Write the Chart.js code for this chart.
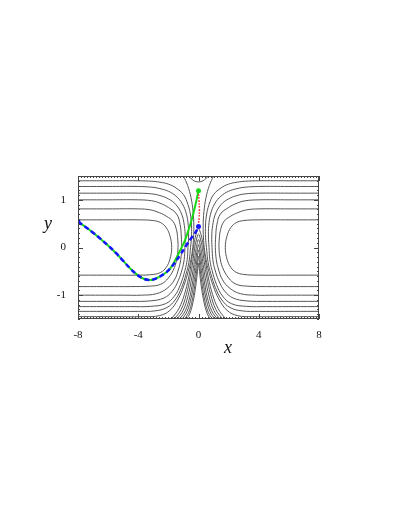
<!DOCTYPE html>
<html>
<head>
<meta charset="utf-8">
<script src="https://cdn.jsdelivr.net/npm/chart.js@4/dist/chart.umd.min.js"></script>
<style>
  html, body { margin: 0; padding: 0; background: #fff; }
</style>
</head>
<body>
<canvas id="chart" width="409" height="529"></canvas>
<script>
// Tick labels
const xTicks = [-8, -4, 0, 4, 8]
const yTicks = [-1, 0, 1]

// Contour lines, [x, y] pairs
const loopLeft = [[-8,0.58],[-6,0.58],[-4,0.58],[-3,0.565],[-2.5,0.52],[-2.15,0.42],[-1.9,0.25],[-1.78,0],[-1.9,-0.25],[-2.15,-0.42],[-2.5,-0.52],[-3,-0.565],[-4,-0.58],[-6,-0.58],[-8,-0.58]]
const loopRight = [[8,0.58],[6,0.58],[4,0.58],[3,0.565],[2.5,0.52],[2.15,0.42],[1.9,0.25],[1.78,0],[1.9,-0.25],[2.15,-0.42],[2.5,-0.52],[3,-0.565],[4,-0.58],[6,-0.58],[8,-0.58]]

const c1Left = [[-8,0.81],[-6,0.81],[-4,0.81],[-3.2,0.79],[-2.6,0.73],[-2.1,0.65],[-1.7,0.55],[-1.47,0.38],[-1.38,0.18],[-1.36,0],[-1.42,-0.2],[-1.6,-0.42],[-2,-0.64],[-2.5,-0.77],[-3.2,-0.81],[-4.5,-0.82],[-6,-0.82],[-8,-0.82]]
const c1Right = [[8,0.81],[6,0.81],[4,0.81],[3.2,0.79],[2.6,0.73],[2.1,0.65],[1.7,0.55],[1.47,0.38],[1.38,0.18],[1.36,0],[1.42,-0.2],[1.6,-0.42],[2,-0.64],[2.5,-0.77],[3.2,-0.81],[4.5,-0.82],[6,-0.82],[8,-0.82]]

const c2Left = [[-8,1.0],[-6,1.0],[-4,1.0],[-3.1,0.98],[-2.56,0.93],[-2.0,0.84],[-1.45,0.7],[-1.22,0.48],[-1.14,0.22],[-1.12,0],[-1.18,-0.25],[-1.32,-0.45],[-1.6,-0.68],[-2.1,-0.86],[-2.8,-0.97],[-3.8,-1.0],[-5,-1.0],[-8,-1.0]]
const c2Right = [[8,1.0],[6,1.0],[4,1.0],[3.1,0.98],[2.56,0.93],[2.0,0.84],[1.45,0.7],[1.22,0.48],[1.14,0.22],[1.12,0],[1.18,-0.25],[1.32,-0.45],[1.6,-0.68],[2.1,-0.86],[2.8,-0.97],[3.8,-1.0],[5,-1.0],[8,-1.0]]

const c3Left = [[-8,1.14],[-6,1.14],[-4,1.14],[-3.1,1.125],[-2.56,1.09],[-2.0,1.02],[-1.5,0.9],[-1.12,0.7],[-0.94,0.46],[-0.88,0.22],[-0.9,0],[-0.95,-0.25],[-1.08,-0.45],[-1.35,-0.7],[-1.75,-0.92],[-2.3,-1.06],[-3.2,-1.12],[-4.5,-1.13],[-6,-1.13],[-8,-1.13]]
const c3Right = [[8,1.14],[6,1.14],[4,1.14],[3.1,1.125],[2.56,1.09],[2.0,1.02],[1.5,0.9],[1.12,0.7],[0.94,0.46],[0.88,0.22],[0.9,0],[0.95,-0.25],[1.08,-0.45],[1.35,-0.7],[1.75,-0.92],[2.3,-1.06],[3.2,-1.12],[4.5,-1.13],[6,-1.13],[8,-1.13]]

const c4Left = [[-8,1.28],[-6,1.28],[-4,1.28],[-3.1,1.265],[-2.56,1.235],[-2.0,1.18],[-1.5,1.08],[-1.08,0.92],[-0.8,0.7],[-0.68,0.46],[-0.66,0.22],[-0.7,0],[-0.75,-0.25],[-0.9,-0.48],[-1.2,-0.78],[-1.6,-1.02],[-2.2,-1.18],[-3.2,-1.235],[-4.5,-1.24],[-6,-1.24],[-8,-1.24]]
const c4Right = [[8,1.28],[6,1.28],[4,1.28],[3.1,1.265],[2.56,1.235],[2.0,1.18],[1.5,1.08],[1.08,0.92],[0.8,0.7],[0.68,0.46],[0.66,0.22],[0.7,0],[0.75,-0.25],[0.9,-0.48],[1.2,-0.78],[1.6,-1.02],[2.2,-1.18],[3.2,-1.235],[4.5,-1.24],[6,-1.24],[8,-1.24]]

const c5Left = [[-8,1.40],[-6,1.40],[-4,1.40],[-3.1,1.39],[-2.56,1.37],[-2.0,1.33],[-1.5,1.25],[-1.0,1.11],[-0.7,0.9],[-0.52,0.66],[-0.46,0.4],[-0.48,0.15],[-0.53,0],[-0.63,-0.3],[-0.82,-0.55],[-1.12,-0.84],[-1.55,-1.1],[-2.1,-1.26],[-2.9,-1.33],[-4,-1.34],[-6,-1.34],[-8,-1.34]]
const c5Right = [[8,1.40],[6,1.40],[4,1.40],[3.1,1.39],[2.56,1.37],[2.0,1.33],[1.5,1.25],[1.0,1.11],[0.7,0.9],[0.52,0.66],[0.46,0.4],[0.48,0.15],[0.53,0],[0.63,-0.3],[0.82,-0.55],[1.12,-0.84],[1.55,-1.1],[2.1,-1.26],[2.9,-1.33],[4,-1.34],[6,-1.34],[8,-1.34]]

// innermost neck lines, coming in from the top edge
const c6Left = [[-1.0,1.5],[-0.72,1.3],[-0.5,1.05],[-0.36,0.75],[-0.31,0.45],[-0.33,0.2],[-0.38,0],[-0.5,-0.25],[-0.68,-0.5],[-0.97,-0.8],[-1.35,-1.08],[-1.9,-1.32],[-2.6,-1.43],[-3.6,-1.45],[-6,-1.45],[-8,-1.45]]
const c6Right = [[1.0,1.5],[0.72,1.3],[0.5,1.05],[0.36,0.75],[0.31,0.45],[0.33,0.2],[0.38,0],[0.5,-0.25],[0.68,-0.5],[0.97,-0.8],[1.35,-1.08],[1.9,-1.32],[2.6,-1.43],[3.6,-1.45],[6,-1.45],[8,-1.45]]

// nested peaks under the seam
const peak1 = [[-1.8,-1.5],[-1.3,-1.28],[-0.93,-0.98],[-0.66,-0.64],[-0.48,-0.32],[-0.36,-0.05],[-0.25,0.16],[-0.12,0.32],[0,0.40],[0.12,0.32],[0.25,0.16],[0.36,-0.05],[0.48,-0.32],[0.66,-0.64],[0.93,-0.98],[1.3,-1.28],[1.8,-1.5]]
const peak2 = [[-1.6,-1.5],[-1.15,-1.3],[-0.8,-0.98],[-0.55,-0.62],[-0.38,-0.3],[-0.26,-0.02],[-0.14,0.16],[0,0.28],[0.14,0.16],[0.26,-0.02],[0.38,-0.3],[0.55,-0.62],[0.8,-0.98],[1.15,-1.3],[1.6,-1.5]]
const peak3 = [[-1.42,-1.5],[-1.02,-1.32],[-0.7,-1.02],[-0.46,-0.66],[-0.31,-0.36],[-0.2,-0.1],[-0.1,0.07],[0,0.17],[0.1,0.07],[0.2,-0.1],[0.31,-0.36],[0.46,-0.66],[0.7,-1.02],[1.02,-1.32],[1.42,-1.5]]
const peak4 = [[-1.25,-1.5],[-0.88,-1.33],[-0.58,-1.04],[-0.38,-0.7],[-0.25,-0.42],[-0.15,-0.18],[-0.07,-0.03],[0,0.06],[0.07,-0.03],[0.15,-0.18],[0.25,-0.42],[0.38,-0.7],[0.58,-1.04],[0.88,-1.33],[1.25,-1.5]]
const peak5 = [[-1.08,-1.5],[-0.76,-1.34],[-0.49,-1.06],[-0.31,-0.74],[-0.19,-0.48],[-0.11,-0.27],[-0.05,-0.13],[0,-0.05],[0.05,-0.13],[0.11,-0.27],[0.19,-0.48],[0.31,-0.74],[0.49,-1.06],[0.76,-1.34],[1.08,-1.5]]
const peak6 = [[-0.92,-1.5],[-0.65,-1.36],[-0.41,-1.1],[-0.25,-0.8],[-0.15,-0.56],[-0.08,-0.38],[-0.04,-0.26],[0,-0.18],[0.04,-0.26],[0.08,-0.38],[0.15,-0.56],[0.25,-0.8],[0.41,-1.1],[0.65,-1.36],[0.92,-1.5]]
const peak7 = [[-0.78,-1.5],[-0.57,-1.38],[-0.36,-1.14],[-0.21,-0.87],[-0.12,-0.65],[-0.07,-0.5],[-0.03,-0.39],[0,-0.33],[0.03,-0.39],[0.07,-0.5],[0.12,-0.65],[0.21,-0.87],[0.36,-1.14],[0.57,-1.38],[0.78,-1.5]]

// cup at the top of the seam
const topCup = [[-0.68,1.5],[-0.5,1.45],[-0.3,1.4],[0,1.375],[0.3,1.4],[0.5,1.45],[0.68,1.5]]

// paths
const sharedPath = [[-8,0.54],[-7.5,0.43],[-7,0.31],[-6.5,0.18],[-6,0.04],[-5.5,-0.11],[-5,-0.28],[-4.5,-0.45],[-4,-0.59],[-3.6,-0.66],[-3.3,-0.68],[-3,-0.67],[-2.6,-0.615],[-2.2,-0.535],[-1.9,-0.45]]
const greenTail = [[-1.6,-0.3],[-1.2,-0.05],[-0.9,0.15],[-0.65,0.38],[-0.42,0.62],[-0.2,0.9],[0,1.19]]
const blueTail = [[-1.6,-0.33],[-1.2,-0.15],[-0.8,0.05],[-0.5,0.19],[-0.25,0.29],[0,0.44]]
const seam = [[0,1.18],[0.03,1.0],[0.06,0.8],[0.04,0.62],[0,0.5]]
const blueEnds = [[-8,0.54],[0,0.44]]
const greenEnds = [[0,1.19]]

const contours = [loopLeft, loopRight, c1Left, c1Right, c2Left, c2Right, c3Left, c3Right,
  c4Left, c4Right, c5Left, c5Right, c6Left, c6Right,
  peak1, peak2, peak3, peak4, peak5, peak6, peak7, topCup]

const toXY = pts => pts.map(([x, y]) => ({ x, y }))

const datasets = contours.map(pts => ({
  data: toXY(pts),
  showLine: true,
  borderColor: "#555555",
  borderWidth: 1,
  tension: 0.4,
  pointRadius: 0,
  order: 10,
}))

datasets.push({
  data: toXY(sharedPath.concat(greenTail)),
  showLine: true,
  borderColor: "#18d818",
  borderWidth: 2,
  tension: 0.4,
  pointRadius: 0,
  order: 4,
})
datasets.push({
  data: toXY(sharedPath.concat(blueTail)),
  showLine: true,
  borderColor: "#1414ff",
  borderWidth: 2.5,
  borderDash: [5, 3],
  tension: 0.4,
  pointRadius: 0,
  order: 3,
})
datasets.push({
  data: toXY(seam),
  showLine: true,
  borderColor: "#ff2020",
  borderWidth: 1.5,
  borderDash: [1.5, 1.5],
  tension: 0.4,
  pointRadius: 0,
  order: 2,
})
datasets.push({
  data: toXY(blueEnds),
  showLine: false,
  pointRadius: 2.5,
  pointBackgroundColor: "#1414ff",
  pointBorderWidth: 0,
  order: 1,
})
datasets.push({
  data: toXY(greenEnds),
  showLine: false,
  pointRadius: 2.5,
  pointBackgroundColor: "#18d818",
  pointBorderWidth: 0,
  order: 1,
})

// Frame, inner tick marks and axis titles
const framePlugin = {
  id: "frame",
  afterDatasetsDraw(chart) {
    const { ctx, chartArea: a, scales } = chart
    const sx = scales.x
    const sy = scales.y
    ctx.save()
    ctx.strokeStyle = "#444"
    ctx.lineWidth = 1
    ctx.beginPath()
    for (let i = 0; i <= 80; i++) {
      const v = -8 + i * 0.2
      const px = Math.round(sx.getPixelForValue(v)) + 0.5
      const len = xTicks.some(t => Math.abs(t - v) < 1e-6) ? 5 : 2
      ctx.moveTo(px, a.bottom); ctx.lineTo(px, a.bottom - len)
      ctx.moveTo(px, a.top); ctx.lineTo(px, a.top + len)
    }
    for (let i = 0; i <= 30; i++) {
      const v = -1.5 + i * 0.1
      const py = Math.round(sy.getPixelForValue(v)) + 0.5
      const len = yTicks.some(t => Math.abs(t - v) < 1e-6) ? 5 : 2
      ctx.moveTo(a.left, py); ctx.lineTo(a.left + len, py)
      ctx.moveTo(a.right, py); ctx.lineTo(a.right - len, py)
    }
    ctx.stroke()
    ctx.strokeRect(a.left + 0.5, a.top + 0.5, a.right - a.left - 1, a.bottom - a.top - 1)

    ctx.fillStyle = "#111"
    ctx.font = 'italic 18px "Liberation Serif", serif'
    ctx.textAlign = "center"
    ctx.textBaseline = "middle"
    ctx.fillText("x", a.left + 150, a.bottom + 29)
    ctx.fillText("y", a.left - 30, a.top + 48)
    ctx.restore()
  },
}

const tickFont = { family: '"Liberation Serif", serif', size: 11 }

new Chart(document.getElementById("chart").getContext("2d"), {
  type: "scatter",
  data: { datasets: datasets },
  options: {
    responsive: false,
    animation: false,
    layout: { padding: { left: 0, right: 90, top: 176, bottom: 0 } },
    plugins: {
      legend: { display: false },
      tooltip: { enabled: false },
    },
    scales: {
      x: {
        type: "linear",
        min: -8,
        max: 8,
        afterBuildTicks: scale => { scale.ticks = xTicks.map(v => ({ value: v })) },
        afterFit: scale => { scale.height = 210 },
        grid: { display: false, drawTicks: false },
        border: { display: false },
        ticks: { color: "#111", font: tickFont, padding: 10, maxRotation: 0, callback: v => String(v) },
      },
      y: {
        type: "linear",
        min: -1.5,
        max: 1.5,
        afterBuildTicks: scale => { scale.ticks = yTicks.map(v => ({ value: v })) },
        afterFit: scale => { scale.width = 78 },
        grid: { display: false, drawTicks: false },
        border: { display: false },
        ticks: { color: "#111", font: tickFont, padding: 12, callback: v => String(v) },
      },
    },
  },
  plugins: [framePlugin],
})
</script>
</body>
</html>
